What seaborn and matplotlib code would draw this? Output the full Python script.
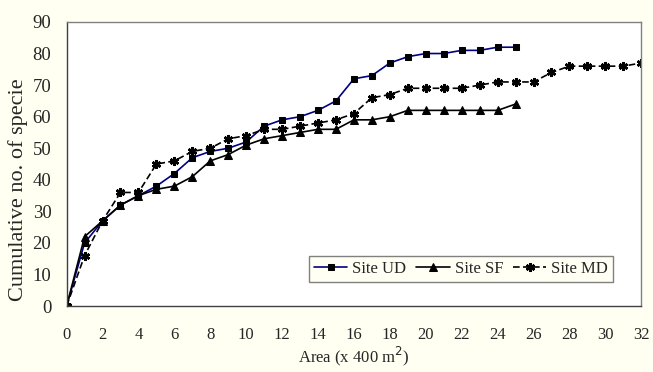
import numpy as np
import pandas as pd
import matplotlib.pyplot as plt
import seaborn as sns

# area sampled (x 400 m2)
area_ud = list(range(0, 26))
area_sf = list(range(0, 26))
area_md = list(range(0, 33))

# cumulative species counts
site_ud = [0, 20, 27, 32, 35, 38, 42, 47, 49, 50, 52, 57, 59, 60, 62, 65,
           72, 73, 77, 79, 80, 80, 81, 81, 82, 82]
site_sf = [0, 22, 27, 32, 35, 37, 38, 41, 46, 48, 51, 53, 54, 55, 56, 56,
           59, 59, 60, 62, 62, 62, 62, 62, 62, 64]
site_md = [0, 16, 27, 36, 36, 45, 46, 49, 50, 53, 54, 56, 56, 57, 58, 59,
           61, 66, 67, 69, 69, 69, 69, 70, 71, 71, 71, 74, 76, 76, 76, 76, 77]

sns.set_style("white")
plt.rcParams['font.family'] = ['Liberation Serif', 'DejaVu Serif']

bg = '#fffff2'
fig = plt.figure(figsize=(6.53, 3.72), dpi=100, facecolor=bg)
ax = fig.add_axes([0.102, 0.177, 0.880, 0.764])
ax.set_facecolor('white')

sns.lineplot(x=area_ud, y=site_ud, ax=ax, color='#000080', marker='s',
             markersize=5, markerfacecolor='black', markeredgecolor='black',
             linewidth=1.2, label='Site UD')
sns.lineplot(x=area_sf, y=site_sf, ax=ax, color='black', marker='^',
             markersize=6, markerfacecolor='black', markeredgecolor='black',
             linewidth=1.2, label='Site SF')
sns.lineplot(x=area_md, y=site_md, ax=ax, color='black', marker=(6, 2, 0),
             markersize=6.5, markeredgewidth=1.8, markeredgecolor='black',
             linestyle=(0, (4, 2)), linewidth=1.2, label='Site MD')

ax.set_xlim(0, 32)
ax.set_ylim(0, 90)
ax.set_xticks(range(0, 33))
ax.set_xticklabels([str(v) if v % 2 == 0 else '' for v in range(0, 33)])
ax.set_yticks(range(0, 91, 10))
ax.tick_params(axis='both', direction='out', length=5, width=1, color='#808080')
ax.tick_params(axis='x', pad=10, labelsize=12)
ax.tick_params(axis='y', pad=6, labelsize=13.5)
for s in ax.spines.values():
    s.set_color('#808080')
    s.set_linewidth(1)
ax.spines['left'].set_color('#404040')
ax.spines['bottom'].set_color('#404040')

ax.set_xlabel('Area (x 400 m$^2$)', fontsize=12, va='center')
ax.xaxis.set_label_coords(0.5, -0.178)
fig.text(0.027, 0.19, 'Cumulative no. of specie', rotation=90, fontsize=16,
         ha='center', va='bottom')
ax.set_ylabel('')

leg = ax.legend(loc='lower right', bbox_to_anchor=(0.951, 0.085), ncol=3,
                frameon=True, fancybox=False, borderaxespad=0, fontsize=12,
                handlelength=2.0, columnspacing=0.6, handletextpad=0.3,
                borderpad=0.3)
leg.get_frame().set_facecolor(bg)
leg.get_frame().set_edgecolor('#606060')
leg.get_frame().set_linewidth(1)

fig.savefig('out.png', dpi=100, facecolor=bg)
